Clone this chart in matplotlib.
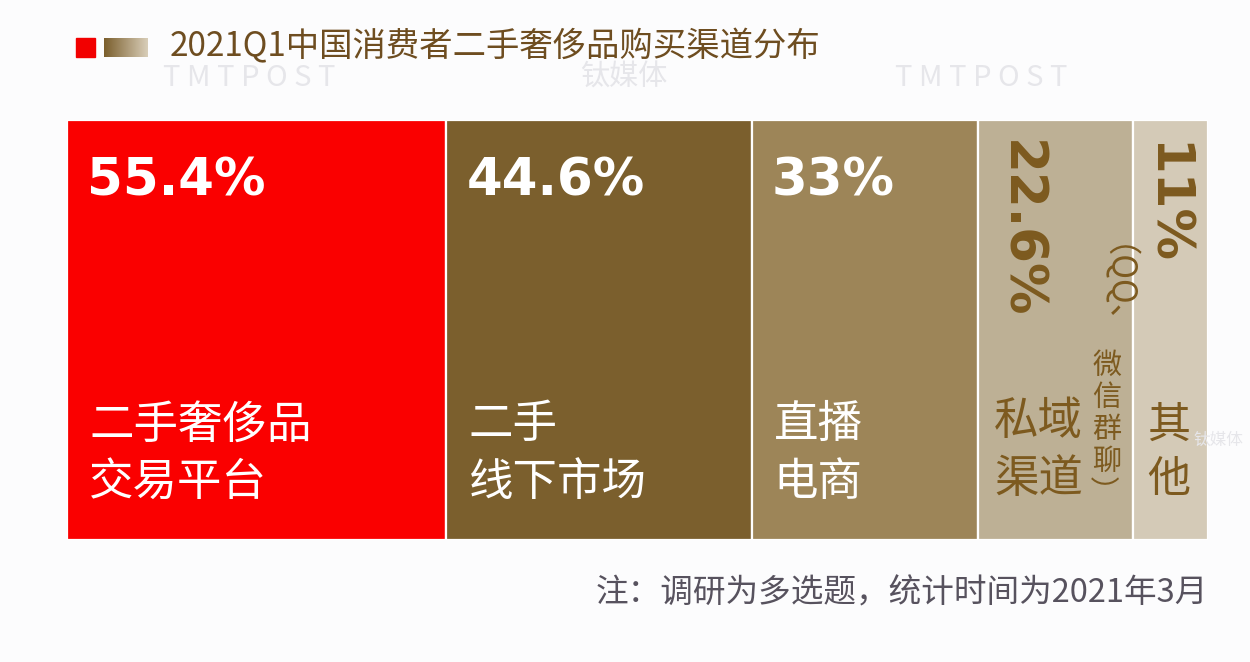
import numpy as np
import matplotlib.pyplot as plt
from matplotlib.colors import LinearSegmentedColormap

# data
channels = ["二手奢侈品\n交易平台", "二手\n线下市场", "直播\n电商", "私域\n渠道", "其\n他"]
shares = [55.4, 44.6, 33, 22.6, 11]
share_labels = ["55.4%", "44.6%", "33%", "22.6%", "11%"]
box_colors = ["#fa0000", "#7b5f2d", "#9d8558", "#bdb095", "#d4cab7"]
text_colors = ["white", "white", "white", "#7d5a1f", "#7d5a1f"]
title = "2021Q1中国消费者二手奢侈品购买渠道分布"
note = "注：调研为多选题，统计时间为2021年3月"

W, H = 1250, 662
CJK = ["Noto Sans CJK SC", "DejaVu Sans"]
plt.rcParams["font.family"] = CJK

fig = plt.figure(figsize=(W / 100, H / 100), dpi=100, facecolor="#fcfcfd")


def px(x, y):
    return x / W, 1 - y / H


# watermarks
for x, y, s in [(163, 78, "T M T P O S T"), (895, 78, "T M T P O S T"), (580, 78, "钛媒体")]:
    fig.text(*px(x, y), s, fontsize=21, color="#e6e6ea", ha="left", va="center")

# title + legend squares
fig.patches.append(plt.Rectangle(px(76, 57), 19 / W, 19 / H, transform=fig.transFigure,
                                 color="#f20000"))
gax = fig.add_axes([104 / W, 1 - 57 / H, 44 / W, 19 / H])
gax.imshow(np.linspace(0, 1, 50)[None, :], aspect="auto",
           cmap=LinearSegmentedColormap.from_list("g", ["#7b5f2d", "#d8cdb8"]))
gax.axis("off")
fig.text(*px(170, 47), title, fontsize=24, color="#6e4d20", ha="left", va="center")

# mosaic bars
ax = fig.add_axes([67 / W, 1 - 540 / H, (1208 - 67) / W, 420 / H])
total = sum(shares)
lefts = np.concatenate([[0], np.cumsum(shares)[:-1]])
ax.bar(lefts, [1] * len(shares), width=shares, align="edge", color=box_colors,
       edgecolor="white", linewidth=1.6)
ax.set_xlim(0, total)
ax.set_ylim(0, 1)
ax.axis("off")


def put(s, i, dx, dy, **kw):
    # offsets in pixels from the top-left corner of bar i
    return ax.annotate(s, xy=(lefts[i], 1), xycoords="data",
                       xytext=(dx * 0.72, -dy * 0.72), textcoords="offset points", **kw)


pct_font = dict(family="DejaVu Sans", fontweight="bold", fontsize=37)
for i in range(3):
    put(share_labels[i], i, 20, 62, color=text_colors[i], ha="left", va="center", **pct_font)
    put(channels[i], i, 22, 333, color=text_colors[i], ha="left", va="center",
        fontsize=32, linespacing=1.32)

# narrow boxes: rotated percentages
put(share_labels[3], 3, 41, 20, color=text_colors[3], ha="center", va="top",
    rotation=-90, **pct_font)
put(share_labels[4], 4, 32, 22, color=text_colors[4], ha="center", va="top",
    rotation=-90, **pct_font)
put(channels[3], 3, 16, 330, color=text_colors[3], ha="left", va="center",
    fontsize=32, linespacing=1.32)
put(channels[4], 4, 36, 333, color=text_colors[4], ha="center", va="center",
    fontsize=31, linespacing=1.32)

# vertical note (QQ、微信群聊)
sub_col = text_colors[3]
put("（QQ、", 3, 120, 124, color=sub_col, ha="center", va="top", rotation=-90, fontsize=24)
put("微\n信\n群\n聊", 3, 129, 294, color=sub_col, ha="center", va="center",
    fontsize=21, linespacing=1.08)
put("）", 3, 122, 356, color=sub_col, ha="center", va="top", rotation=-90, fontsize=21)

# mid watermark
fig.text(*px(1193, 440), "钛媒体", fontsize=12, color="#e6e6ea", ha="left", va="center")

fig.text(*px(1208, 593), note, fontsize=23.5, color="#57525e", ha="right", va="center")

fig.savefig("out.png", dpi=100, facecolor=fig.get_facecolor())
